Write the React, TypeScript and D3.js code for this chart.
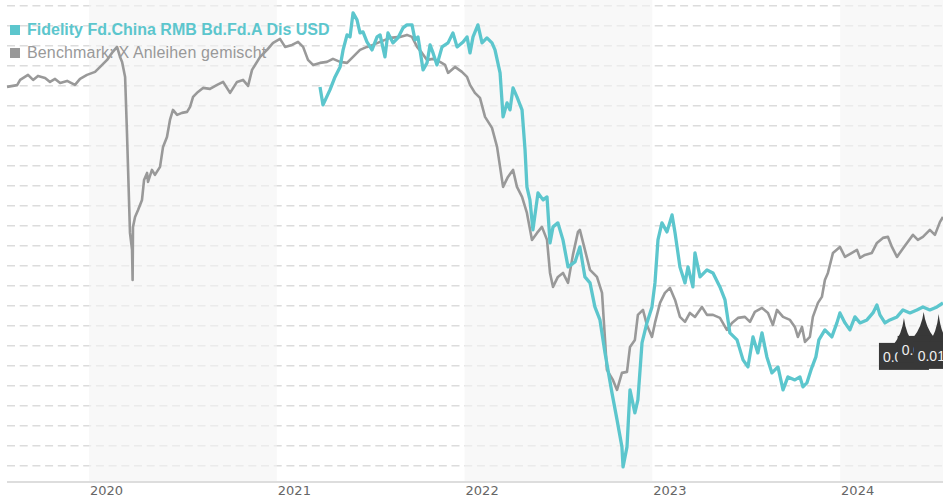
import React from "react";
import * as d3 from "d3";

// ---- Data (decimal years, price index) ----
const benchYears = [
  2019.563, 2019.617, 2019.633, 2019.675, 2019.702, 2019.728, 2019.766, 2019.792, 2019.819, 2019.846,
  2019.883, 2019.925, 2019.952, 2019.989, 2020.032, 2020.059, 2020.096, 2020.122, 2020.149, 2020.165,
  2020.176, 2020.192, 2020.202, 2020.218, 2020.229, 2020.232, 2020.234, 2020.245, 2020.261, 2020.282,
  2020.293, 2020.309, 2020.314, 2020.335, 2020.351, 2020.378, 2020.394, 2020.415, 2020.431, 2020.447,
  2020.469, 2020.495, 2020.522, 2020.538, 2020.554, 2020.58, 2020.607, 2020.644, 2020.682, 2020.714,
  2020.751, 2020.788, 2020.82, 2020.847, 2020.868, 2020.911, 2020.948, 2020.98, 2021.017, 2021.044,
  2021.081, 2021.113, 2021.14, 2021.166, 2021.193, 2021.23, 2021.267, 2021.299, 2021.337, 2021.374,
  2021.406, 2021.443, 2021.48, 2021.512, 2021.55, 2021.603, 2021.656, 2021.693, 2021.72, 2021.747,
  2021.773, 2021.8, 2021.832, 2021.869, 2021.896, 2021.912, 2021.949, 2021.986, 2022.013, 2022.029,
  2022.055, 2022.082, 2022.109, 2022.146, 2022.173, 2022.189, 2022.205, 2022.231, 2022.258, 2022.279,
  2022.306, 2022.332, 2022.359, 2022.386, 2022.412, 2022.439, 2022.455, 2022.471, 2022.497, 2022.524,
  2022.551, 2022.577, 2022.604, 2022.614, 2022.641, 2022.668, 2022.705, 2022.732, 2022.748, 2022.758,
  2022.79, 2022.812, 2022.838, 2022.865, 2022.881, 2022.907, 2022.923, 2022.95, 2022.971, 2022.998,
  2023.014, 2023.041, 2023.067, 2023.094, 2023.121, 2023.147, 2023.174, 2023.2, 2023.227, 2023.264,
  2023.291, 2023.323, 2023.36, 2023.397, 2023.424, 2023.456, 2023.493, 2023.52, 2023.546, 2023.584,
  2023.616, 2023.642, 2023.664, 2023.696, 2023.733, 2023.759, 2023.775, 2023.797, 2023.813, 2023.839,
  2023.855, 2023.882, 2023.903, 2023.919, 2023.935, 2023.962, 2023.999, 2024.026, 2024.063, 2024.09,
  2024.106, 2024.132, 2024.169, 2024.196, 2024.228, 2024.255, 2024.276, 2024.303, 2024.329, 2024.356,
  2024.388, 2024.414, 2024.441, 2024.478, 2024.505, 2024.532, 2024.548,
];
const benchValues = [
  98.94, 99.03, 99.29, 99.54, 99.29, 99.49, 99.39, 99.19, 99.34, 99.14,
  99.24, 99.04, 99.34, 99.54, 99.69, 99.94, 100.29, 100.64, 100.94, 100.44,
  100.19, 99.44, 96.64, 91.64, 90.79, 89.29, 91.94, 92.44, 92.79, 93.29,
  94.29, 94.64, 94.19, 94.79, 94.54, 94.94, 95.94, 96.44, 97.29, 97.79,
  97.54, 97.64, 97.69, 97.94, 98.44, 98.69, 98.89, 98.84, 99.04, 99.19,
  98.64, 99.19, 99.29, 98.99, 99.79, 100.44, 100.79, 101.14, 101.34, 100.94,
  101.04, 101.19, 100.94, 100.29, 100.04, 100.14, 100.19, 100.34, 100.19, 100.14,
  100.44, 100.79, 100.94, 101.04, 101.19, 101.39, 101.44, 101.54, 101.44, 100.94,
  100.64, 100.29, 100.34, 100.19, 100.04, 99.64, 99.94, 99.69, 99.44, 99.04,
  98.64, 98.39, 97.44, 96.89, 95.94, 94.94, 93.94, 94.44, 94.79, 93.94,
  93.44, 92.64, 91.29, 91.64, 91.94, 91.29, 89.64, 88.94, 89.44, 89.64,
  89.14, 90.54, 91.69, 91.79, 90.79, 89.79, 89.44, 88.64, 86.29, 84.79,
  84.29, 83.79, 84.64, 84.69, 85.94, 86.29, 87.54, 87.79, 87.04, 86.44,
  87.14, 88.14, 88.64, 88.89, 88.29, 87.44, 87.19, 87.64, 87.44, 87.94,
  87.54, 87.54, 87.39, 86.79, 87.14, 87.39, 87.44, 87.19, 87.69, 87.89,
  87.64, 87.04, 87.79, 87.44, 87.29, 86.94, 86.44, 86.94, 86.19, 86.44,
  87.44, 88.14, 88.44, 89.29, 89.64, 90.64, 90.94, 90.44, 90.64, 90.79,
  90.39, 90.54, 90.64, 91.14, 91.39, 91.44, 90.94, 90.44, 90.79, 91.14,
  91.54, 91.29, 91.44, 91.79, 91.54, 92.19, 92.44,
];

const fundYears = [
  2021.23, 2021.246, 2021.283, 2021.31, 2021.337, 2021.353, 2021.374, 2021.39, 2021.406, 2021.427,
  2021.443, 2021.459, 2021.48, 2021.507, 2021.534, 2021.55, 2021.576, 2021.592, 2021.619, 2021.645,
  2021.672, 2021.693, 2021.72, 2021.736, 2021.752, 2021.779, 2021.8, 2021.816, 2021.832, 2021.853,
  2021.88, 2021.912, 2021.938, 2021.96, 2021.992, 2022.013, 2022.029, 2022.045, 2022.071, 2022.093,
  2022.119, 2022.146, 2022.162, 2022.189, 2022.205, 2022.226, 2022.242, 2022.258, 2022.279, 2022.306,
  2022.322, 2022.332, 2022.348, 2022.364, 2022.391, 2022.418, 2022.439, 2022.455, 2022.471, 2022.497,
  2022.524, 2022.551, 2022.588, 2022.614, 2022.641, 2022.668, 2022.694, 2022.721, 2022.748, 2022.785,
  2022.812, 2022.838, 2022.844, 2022.865, 2022.881, 2022.907, 2022.923, 2022.945, 2022.971, 2022.998,
  2023.014, 2023.03, 2023.051, 2023.078, 2023.105, 2023.121, 2023.147, 2023.174, 2023.19, 2023.216,
  2023.227, 2023.254, 2023.291, 2023.323, 2023.36, 2023.387, 2023.413, 2023.451, 2023.483, 2023.509,
  2023.536, 2023.562, 2023.584, 2023.61, 2023.637, 2023.669, 2023.696, 2023.722, 2023.759, 2023.786,
  2023.802, 2023.823, 2023.845, 2023.871, 2023.887, 2023.919, 2023.956, 2023.983, 2023.999, 2024.026,
  2024.052, 2024.079, 2024.106, 2024.143, 2024.175, 2024.196, 2024.212, 2024.239, 2024.265, 2024.303,
  2024.335, 2024.372, 2024.409, 2024.441, 2024.478, 2024.516, 2024.548,
];
const fundValues = [
  98.94, 98.04, 98.79, 99.44, 99.94, 100.79, 101.54, 101.44, 102.64, 102.29,
  101.64, 101.69, 101.19, 100.79, 101.44, 101.54, 100.44, 101.64, 101.14, 101.39,
  101.89, 102.04, 102.04, 101.29, 101.44, 99.79, 100.14, 101.04, 100.64, 100.04,
  100.94, 101.14, 101.64, 100.94, 101.19, 101.44, 100.64, 101.44, 102.04, 101.14,
  101.39, 101.14, 100.79, 99.64, 97.44, 98.14, 97.79, 98.89, 98.44, 97.79,
  95.79, 93.94, 93.29, 91.79, 93.64, 93.29, 93.44, 91.14, 91.94, 92.14,
  91.29, 89.94, 90.19, 90.94, 89.44, 89.14, 87.94, 87.29, 85.64, 83.64,
  82.29, 80.94, 79.94, 80.94, 83.79, 82.64, 83.29, 86.14, 87.14, 87.94,
  89.14, 91.29, 92.14, 91.69, 92.54, 91.64, 89.94, 89.14, 89.94, 88.94,
  90.64, 89.44, 89.79, 89.64, 88.94, 88.29, 86.64, 86.29, 85.29, 84.94,
  86.44, 85.64, 86.64, 85.44, 84.64, 84.94, 83.79, 84.44, 84.29, 84.44,
  83.94, 84.14, 84.79, 85.44, 86.29, 86.79, 86.44, 87.14, 87.64, 87.14,
  86.79, 87.44, 87.14, 87.29, 87.64, 88.04, 87.54, 87.14, 87.29, 87.44,
  87.79, 87.64, 87.79, 87.94, 87.79, 87.94, 88.14,
];

const yearTicks = [2020, 2021, 2022, 2023, 2024];
const shadedYears = [2020, 2022, 2024];
const gridValues = d3.range(80, 104, 1);

const seriesNames = ["Fidelity Fd.China RMB Bd.Fd.A Dis USD", "Benchmark: X Anleihen gemischt"];
const seriesColors = ["#5cc6cd", "#999999"];

const flagYears = [2024.34, 2024.445, 2024.525];
const flagValues = [87.39, 87.69, 87.59];
const flagLabels = ["0.01", "0.01", "0.01"];

const W = 943;
const H = 500;

export default function App() {
  const x = d3.scaleLinear().domain([2019.563, 2024.548]).range([7, 943]);
  const y = d3.scaleLinear().domain([80, 103]).range([465.7, 5.7]);
  const axisY = 482;

  const line = d3
    .line<[number, number]>()
    .x((d) => x(d[0]))
    .y((d) => y(d[1]));

  const bench: [number, number][] = benchYears.map((t, i) => [t, benchValues[i]]);
  const fund: [number, number][] = fundYears.map((t, i) => [t, fundValues[i]]);

  const flagShape = (px: number, py: number, by: number) => {
    const hw = 10;
    return `M${px},${py} Q${px - 2},${by - 9} ${px - hw},${by + 1} L${px + hw},${by + 1} Q${px + 2},${by - 9} ${px},${py} Z`;
  };

  const flagTops = [25, 24, 28];
  const flagLefts = [-25, -26, -25];

  return (
    <svg
      width={W}
      height={H}
      style={{ position: "absolute", left: 0, top: 0, background: "#fff" }}
      fontFamily="'Liberation Sans', Arial, sans-serif"
    >
      {/* gridlines */}
      {gridValues.map((v) => (
        <line
          key={"g" + v}
          x1={7}
          x2={W}
          y1={y(v)}
          y2={y(v)}
          stroke="#dcdcdc"
          strokeWidth={1.5}
          strokeDasharray="8,4.7"
        />
      ))}
      {/* shaded year bands */}
      {shadedYears.map((yr) => (
        <rect
          key={"b" + yr}
          x={x(yr)}
          y={0}
          width={Math.min(x(yr + 1), W) - x(yr)}
          height={axisY}
          fill="rgb(244,244,244)"
          fillOpacity={0.62}
        />
      ))}
      {/* x axis */}
      <line x1={7} x2={W} y1={axisY} y2={axisY} stroke="#dddddd" strokeWidth={2} />
      {yearTicks.map((yr) => (
        <text
          key={"t" + yr}
          x={x(yr) + 1}
          y={495}
          fontFamily="'DejaVu Sans', Verdana, sans-serif"
          fontSize={13}
          fill="#666"
        >
          {yr}
        </text>
      ))}
      {/* legend */}
      <rect x={10} y={25} width={10} height={10} fill={seriesColors[0]} />
      <text x={27} y={35} fontSize={16} fontWeight="bold" fill={seriesColors[0]}>
        {seriesNames[0]}
      </text>
      <rect x={10} y={48} width={10} height={10} fill={seriesColors[1]} />
      <text x={27} y={58} fontSize={16} fill={seriesColors[1]} letterSpacing={0.15}>
        {seriesNames[1]}
      </text>
      {/* lines */}
      <path d={line(bench) || ""} fill="none" stroke={seriesColors[1]} strokeWidth={2.6} strokeLinejoin="round" />
      <path d={line(fund) || ""} fill="none" stroke={seriesColors[0]} strokeWidth={3.3} strokeLinejoin="round" />
      {/* flags */}
      {flagYears.map((t, i) => {
        const px = x(t);
        const py = y(flagValues[i]);
        const top = py + flagTops[i];
        return (
          <g key={"f" + i}>
            <path d={flagShape(px, py, top)} fill="#383838" />
            <rect x={px + flagLefts[i]} y={top} width={50} height={27} fill="#383838" />
            <text x={px + flagLefts[i] + 4} y={top + 19} fontSize={14} fill="#f0f0f0">
              {flagLabels[i]}
            </text>
          </g>
        );
      })}
    </svg>
  );
}
